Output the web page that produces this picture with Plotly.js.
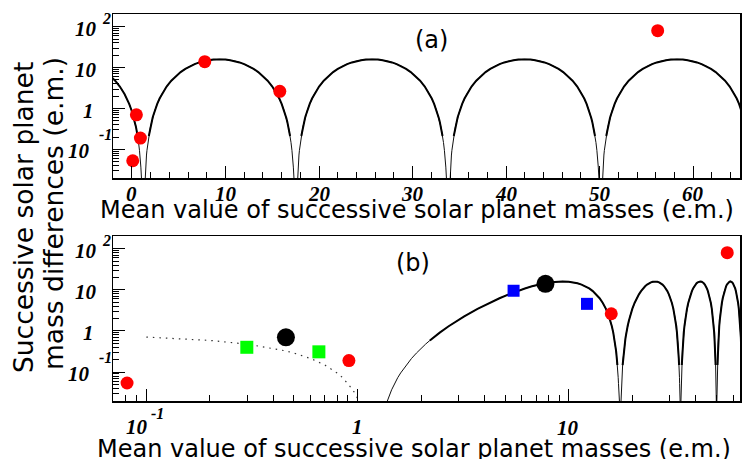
<!DOCTYPE html>
<html>
<head>
<meta charset="utf-8">
<script src="https://cdn.plot.ly/plotly-3.0.1.min.js"></script>
<style>
  html, body { margin: 0; padding: 0; background: #fff; }
  #chart { width: 742px; height: 459px; }
</style>
</head>
<body>
<div id="chart"></div>
<script>
// ---------- data ----------
// model curve: one arch profile (distance from a zero, value), mirrored around the arch top
const archOffset = [0.1, 0.18, 0.25, 0.3, 0.35, 0.4, 0.5, 0.6, 0.7, 0.75, 0.8, 0.9, 1.0, 1.05, 1.1, 1.115,
                    1.25, 1.5, 1.75, 2, 2.5, 3, 3.5, 4, 4.5, 5, 5.5, 6, 6.5, 7, 7.5, 8.15];
const archValue  = [0.006, 0.019, 0.037, 0.053, 0.073, 0.095, 0.148, 0.213, 0.289, 0.332, 0.377, 0.477, 0.587, 0.646, 0.708, 0.728,
                    0.911, 1.30, 1.75, 2.26, 3.44, 4.78, 6.24, 7.77, 9.31, 10.8, 12.2, 13.4, 14.45, 15.2, 15.7, 16.0];
const archZeros  = [-15.1, 1.2, 17.5, 33.8, 50.1, 66.4];

// panel (a): planets
const redAx = [0.08, 0.47, 0.90, 7.78, 15.8, 56.2];
const redAy = [0.053, 0.70, 0.19, 14.0, 2.64, 80];

// panel (b)
const redBx   = [0.081, 0.91, 15.9, 56.3];
const redBy   = [0.054, 0.19, 2.62, 80];
const blackBx = [0.458, 7.76];
const blackBy = [0.70, 14.0];
const greenBx = [0.299, 0.656];
const greenBy = [0.40, 0.31];
const blueBx  = [5.48, 12.2];
const blueBy  = [9.5, 4.56];

// tick values
const xTicksA = [0, 10, 20, 30, 40, 50, 60];
const yTicks  = [100, 10, 1, 0.1];

// ---------- build the curve ----------
function buildCurve() {
  const xs = [], ys = [];
  for (let i = 0; i < archZeros.length - 1; i++) {
    const z0 = archZeros[i], z1 = archZeros[i + 1];
    for (let k = 0; k < archOffset.length; k++) { xs.push(z0 + archOffset[k]); ys.push(archValue[k]); }
    for (let k = archOffset.length - 2; k >= 0; k--) { xs.push(z1 - archOffset[k]); ys.push(archValue[k]); }
  }
  return { xs, ys };
}
const curve = buildCurve();

// panel (b) function range starts at 0.085
const FUNC_XMIN_B = 0.085;
const bx = [], by = [];
curve.xs.forEach((x, i) => { if (x >= FUNC_XMIN_B) { bx.push(x); by.push(curve.ys[i]); } });
const firstZero = archZeros[1];

const bDotX = [], bDotY = [], bX = [], bY = [], bThickY = [];
bx.forEach((x, i) => {
  if (x < firstZero) { bDotX.push(x); bDotY.push(by[i]); }
  else { bX.push(x); bY.push(by[i]); bThickY.push((by[i] >= 0.1 && x >= 2.2) ? by[i] : null); }
});
const aThickY = curve.ys.map(v => v >= 0.15 ? v : null);

// ---------- traces ----------
const lineThin = { color: '#111', width: 1 };
const lineThick = { color: '#000', width: 2 };
const traces = [
  { x: curve.xs, y: curve.ys, xaxis: 'x', yaxis: 'y', mode: 'lines', line: lineThin, hoverinfo: 'skip' },
  { x: curve.xs, y: aThickY, xaxis: 'x', yaxis: 'y', mode: 'lines', line: lineThick, connectgaps: false, hoverinfo: 'skip' },
  { x: redAx, y: redAy, xaxis: 'x', yaxis: 'y', mode: 'markers', marker: { color: '#ff0000', size: 13, symbol: 'circle', line: { width: 0 } } },

  { x: bDotX, y: bDotY, xaxis: 'x2', yaxis: 'y2', mode: 'lines', line: { color: '#333', width: 1.2, dash: '1.5px,5px' }, hoverinfo: 'skip' },
  { x: bX, y: bY, xaxis: 'x2', yaxis: 'y2', mode: 'lines', line: lineThin, hoverinfo: 'skip' },
  { x: bX, y: bThickY, xaxis: 'x2', yaxis: 'y2', mode: 'lines', line: lineThick, connectgaps: false, hoverinfo: 'skip' },
  { x: redBx, y: redBy, xaxis: 'x2', yaxis: 'y2', mode: 'markers', marker: { color: '#ff0000', size: 13, symbol: 'circle', line: { width: 0 } } },
  { x: greenBx, y: greenBy, xaxis: 'x2', yaxis: 'y2', mode: 'markers', marker: { color: '#00ff00', size: 13, symbol: 'square', line: { width: 0 } } },
  { x: blueBx, y: blueBy, xaxis: 'x2', yaxis: 'y2', mode: 'markers', marker: { color: '#0000ff', size: 12, symbol: 'square', line: { width: 0 } } },
  { x: blackBx, y: blackBy, xaxis: 'x2', yaxis: 'y2', mode: 'markers', marker: { color: '#000000', size: 18, symbol: 'circle', line: { width: 0 } } }
];

// ---------- layout ----------
const W = 742, H = 459, ML = 113, MR = 2, MT = 14, MB = 58;
const px2x = p => (p - ML) / (W - ML - MR);
const py2y = p => (H - MB - p) / (H - MT - MB);

const minorLog = [];
[0.01, 0.1, 1, 10, 100].forEach(d => { for (let k = 2; k <= 9; k++) minorLog.push(+(d * k).toPrecision(3)); });

const baseAxis = {
  showgrid: false, zeroline: false, showline: true, mirror: true, linecolor: '#000', linewidth: 1.5,
  ticks: 'inside', tickcolor: '#000', tickwidth: 1, ticklen: 12, showticklabels: false
};
const yAxisBase = Object.assign({}, baseAxis, {
  type: 'log', range: [-1.705, 2.31], tickmode: 'array', tickvals: yTicks,
  minor: { ticks: 'inside', ticklen: 6, tickwidth: 1, tickcolor: '#000', tickmode: 'array', tickvals: minorLog }
});

const layout = {
  width: W, height: H, margin: { l: ML, r: MR, t: MT, b: MB },
  paper_bgcolor: '#fff', plot_bgcolor: '#fff', showlegend: false,
  xaxis: Object.assign({}, baseAxis, {
    domain: [0, 1], anchor: 'y', range: [-2.03, 65.0], tickmode: 'linear', tick0: 0, dtick: 10,
    minor: { ticks: 'inside', ticklen: 6, tickwidth: 1, tickcolor: '#000', dtick: 2, tick0: 0 }
  }),
  yaxis: Object.assign({}, yAxisBase, { domain: [py2y(178.3), 1], anchor: 'x' }),
  xaxis2: Object.assign({}, baseAxis, {
    domain: [0, 1], anchor: 'y2', type: 'log', range: [-1.158, 1.811], tickmode: 'array', tickvals: [0.1, 1, 10],
    minor: { ticks: 'inside', ticklen: 6, tickwidth: 1, tickcolor: '#000', tickmode: 'array', tickvals: minorLog }
  }),
  yaxis2: Object.assign({}, yAxisBase, { domain: [0, py2y(236)], anchor: 'x2' }),
  annotations: []
};

const tickFont = { family: 'Liberation Serif, Times New Roman, serif', size: 21, color: '#000', weight: 'bold', style: 'italic' };
const expFont  = { family: 'Liberation Serif, Times New Roman, serif', size: 16, color: '#000', weight: 'bold', style: 'italic' };
const textFont = { family: 'DejaVu Sans, sans-serif', size: 24, color: '#000' };
const ann = layout.annotations;

// y tick labels for both panels
[['y', 'x'], ['y2', 'x2']].forEach(([ya, xa]) => {
  yTicks.forEach(v => {
    const ly = Math.log10(v);
    const common = { xref: xa + ' domain', yref: ya, y: ly, showarrow: false, xanchor: 'center', yanchor: 'middle' };
    if (v === 100) {
      ann.push(Object.assign({}, common, { x: 0, xshift: 85.8 - ML, yshift: -2, text: '10', font: tickFont }));
      ann.push(Object.assign({}, common, { x: 0, xshift: 106 - ML, yshift: 8, text: '2', font: expFont }));
    } else if (v === 10) {
      ann.push(Object.assign({}, common, { x: 0, xshift: 85.8 - ML, yshift: -2, text: '10', font: tickFont }));
    } else if (v === 1) {
      ann.push(Object.assign({}, common, { x: 0, xshift: 88.5 - ML, yshift: -2.5, text: '1', font: tickFont }));
    } else {
      ann.push(Object.assign({}, common, { x: 0, xshift: 105 - ML, yshift: 15, text: '-1', font: expFont }));
      ann.push(Object.assign({}, common, { x: 0, xshift: 78.8 - ML, yshift: -2, text: '10', font: tickFont }));
    }
  });
});

// x tick labels panel (a)
xTicksA.forEach(v => {
  ann.push({ xref: 'x', yref: 'y domain', x: v, y: 0, yshift: -16, showarrow: false,
             xanchor: 'center', yanchor: 'middle', text: String(v), font: tickFont });
});
// x tick labels panel (b)
ann.push({ xref: 'x2', yref: 'y2 domain', x: -1, y: 0, xshift: -9.2, yshift: -26, showarrow: false, xanchor: 'center', yanchor: 'middle', text: '10', font: tickFont });
ann.push({ xref: 'x2', yref: 'y2 domain', x: -1, y: 0, xshift: 11, yshift: -12.5, showarrow: false, xanchor: 'center', yanchor: 'middle', text: '-1', font: expFont });
ann.push({ xref: 'x2', yref: 'y2 domain', x: 0, y: 0, xshift: 0, yshift: -26, showarrow: false, xanchor: 'center', yanchor: 'middle', text: '1', font: tickFont });
ann.push({ xref: 'x2', yref: 'y2 domain', x: 1, y: 0, xshift: -1, yshift: -26.5, showarrow: false, xanchor: 'center', yanchor: 'middle', text: '10', font: tickFont });

// axis titles
const xTitle = 'Mean value of successive solar planet masses (e.m.)';
ann.push({ xref: 'paper', yref: 'paper', x: px2x(416.7), y: py2y(210), showarrow: false, xanchor: 'center', yanchor: 'middle', text: xTitle, font: textFont });
ann.push({ xref: 'paper', yref: 'paper', x: px2x(414), y: py2y(449), showarrow: false, xanchor: 'center', yanchor: 'middle', text: xTitle, font: textFont });
const yFont = Object.assign({}, textFont, { size: 26.5 });
ann.push({ xref: 'paper', yref: 'paper', x: px2x(23), y: py2y(218), showarrow: false, xanchor: 'center', yanchor: 'middle', textangle: -90, text: 'Successive solar planet', font: yFont });
ann.push({ xref: 'paper', yref: 'paper', x: px2x(54), y: py2y(214), showarrow: false, xanchor: 'center', yanchor: 'middle', textangle: -90, text: 'mass differences (e.m.)', font: yFont });

// panel labels
ann.push({ xref: 'paper', yref: 'paper', x: px2x(431.7), y: py2y(40), showarrow: false, xanchor: 'center', yanchor: 'middle', text: '(a)', font: Object.assign({}, textFont, { size: 24 }) });
ann.push({ xref: 'paper', yref: 'paper', x: px2x(413.3), y: py2y(263.3), showarrow: false, xanchor: 'center', yanchor: 'middle', text: '(b)', font: Object.assign({}, textFont, { size: 24 }) });

Plotly.newPlot('chart', traces, layout, { staticPlot: true, displayModeBar: false });
</script>
</body>
</html>
